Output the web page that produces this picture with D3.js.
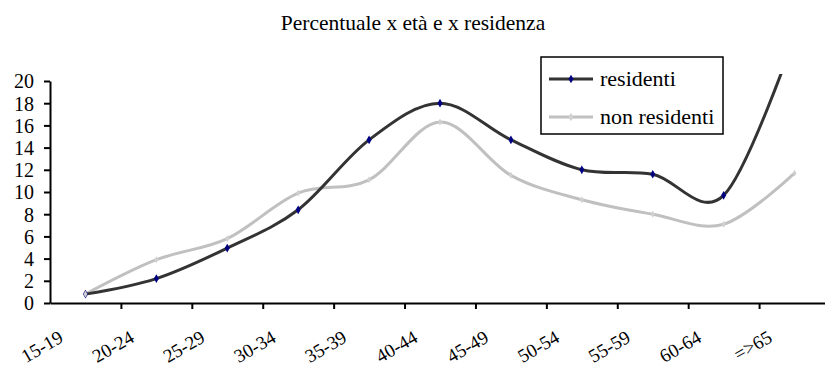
<!DOCTYPE html>
<html>
<head>
<meta charset="utf-8">
<script src="https://cdn.jsdelivr.net/npm/d3@7"></script>
<style>
  html, body { margin: 0; padding: 0; background: #fff; }
  svg { display: block; }
  svg text { font-family: "Liberation Serif", Tinos, "Times New Roman", "DejaVu Serif", serif; }
</style>
</head>
<body>
<svg id="chart" width="825" height="367"></svg>
<script>
// Age classes and percentage series
const categories = ["15-19", "20-24", "25-29", "30-34", "35-39", "40-44", "45-49", "50-54", "55-59", "60-64", "=>65"];
const residenti = [0.8, 2.2, 4.95, 8.4, 14.7, 18.0, 14.7, 12.0, 11.6, 9.7, 24];
const nonResidenti = [0.8, 3.9, 5.8, 9.9, 11.1, 16.3, 11.5, 9.3, 8.0, 7.1, 11.7];
const yTicks = [0, 2, 4, 6, 8, 10, 12, 14, 16, 18, 20];
const seriesNames = ["residenti", "non residenti"];

const FONT = '"Liberation Serif", Tinos, "Times New Roman", "DejaVu Serif", serif';

const svg = d3.select("#chart");

const plot = { left: 50, right: 830, top: 81, bottom: 303 };

const x = d3.scaleBand().domain(categories).range([plot.left, plot.right]).padding(0);
const xEdge = d3.scaleLinear().domain([0, categories.length]).range([plot.left, plot.right]);
const y = d3.scaleLinear().domain([0, 20]).range([plot.bottom, plot.top]);
const cx = d => x(d) + x.bandwidth() / 2;

// Title
svg.append("text")
  .attr("x", 413).attr("y", 30)
  .attr("text-anchor", "middle")
  .attr("font-family", FONT)
  .attr("font-size", 21.5)
  .text("Percentuale x età e x residenza");

// Plot-area clip so lines running off the top are cut
svg.append("clipPath").attr("id", "plotClip")
  .append("rect").attr("x", plot.left).attr("y", 74)
  .attr("width", plot.right - plot.left).attr("height", plot.bottom - 74 + 4);

const line = d3.line()
  .x(d => cx(d.c))
  .y(d => y(d.v))
  .curve(d3.curveCardinal.tension(0));

const toPts = vals => categories.map((c, i) => ({ c, v: vals[i] }));

const lines = svg.append("g").attr("clip-path", "url(#plotClip)");

lines.append("path")
  .datum(toPts(nonResidenti))
  .attr("d", line)
  .attr("fill", "none")
  .attr("stroke", "#c0c0c0")
  .attr("stroke-width", 3)
  .attr("stroke-linejoin", "round")
  .attr("stroke-linecap", "round");

lines.append("path")
  .datum(toPts(residenti))
  .attr("d", line)
  .attr("fill", "none")
  .attr("stroke", "#333333")
  .attr("stroke-width", 3)
  .attr("stroke-linejoin", "round")
  .attr("stroke-linecap", "round");

const diamond = d3.symbol().type(d3.symbolDiamond).size(22);

// Markers
lines.selectAll(".mRes")
  .data(toPts(residenti))
  .join("path")
  .attr("class", "mRes")
  .attr("transform", d => `translate(${cx(d.c)},${y(d.v)})`)
  .attr("d", diamond)
  .attr("fill", "#000080");

lines.selectAll(".mNon")
  .data(toPts(nonResidenti))
  .join("path")
  .attr("class", "mNon")
  .attr("transform", d => `translate(${cx(d.c)},${y(d.v)})`)
  .attr("d", d3.symbol().type(d3.symbolDiamond).size(14))
  .attr("fill", "#d0d0d0");

// Y axis
const yAxis = svg.append("g")
  .attr("transform", `translate(${plot.left},0)`)
  .call(d3.axisLeft(y).tickValues(yTicks).tickSize(6).tickPadding(10).tickSizeOuter(0));
yAxis.attr("font-family", FONT).attr("font-size", 20);
yAxis.select(".domain").attr("stroke", "#000").attr("stroke-width", 2);
yAxis.selectAll(".tick line").attr("stroke", "#000").attr("stroke-width", 2);
yAxis.selectAll(".tick text")
  .attr("fill", "#000")
  .attr("dy", "0.34em");

// X axis: ticks sit on category boundaries
const xAxis = svg.append("g")
  .attr("transform", `translate(0,${plot.bottom})`)
  .call(d3.axisBottom(xEdge).tickValues(d3.range(1, categories.length + 1)).tickSize(6).tickFormat("").tickSizeOuter(0));
xAxis.select(".domain").attr("stroke", "#000").attr("stroke-width", 2);
xAxis.selectAll(".tick line").attr("stroke", "#000").attr("stroke-width", 2);

// Rotated category labels
svg.append("g").selectAll("text")
  .data(categories)
  .join("text")
  .attr("transform", d => `translate(${cx(d) - 21},341) rotate(-30)`)
  .attr("text-anchor", "end")
  .attr("font-family", FONT)
  .attr("font-size", 19)
  .text(d => d);

// Legend
const lg = svg.append("g");
lg.append("rect")
  .attr("x", 541).attr("y", 57).attr("width", 182).attr("height", 77)
  .attr("fill", "#fff").attr("stroke", "#000").attr("stroke-width", 1.5);

const legendRows = [
  { name: seriesNames[0], y: 79, color: "#333333", marker: "#000080" },
  { name: seriesNames[1], y: 117, color: "#c0c0c0", marker: "#d0d0d0" }
];
legendRows.forEach(r => {
  lg.append("line")
    .attr("x1", 549).attr("x2", 593).attr("y1", r.y).attr("y2", r.y)
    .attr("stroke", r.color).attr("stroke-width", 3);
  lg.append("path")
    .attr("transform", `translate(571,${r.y})`)
    .attr("d", diamond)
    .attr("fill", r.marker);
  lg.append("text")
    .attr("x", 600).attr("y", r.y + 7)
    .attr("font-family", FONT)
    .attr("font-size", 22)
    .text(r.name);
});
</script>
</body>
</html>
